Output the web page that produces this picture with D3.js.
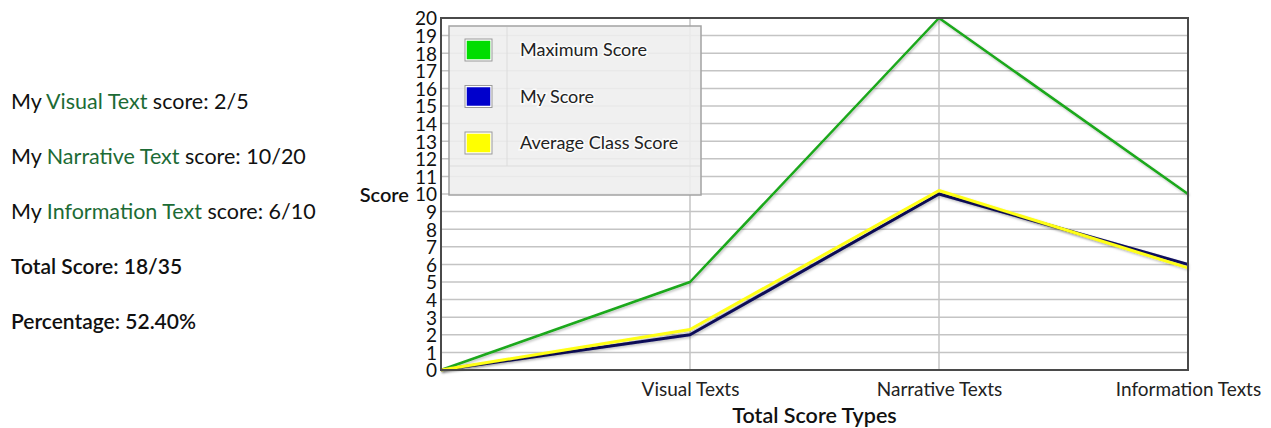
<!DOCTYPE html>
<html>
<head>
<meta charset="utf-8">
<script src="https://cdn.jsdelivr.net/npm/d3@7"></script>
<style>
  body { margin: 0; background: #fff; font-family: Lato, "Open Sans", sans-serif; }
  svg text { font-family: Lato, "Open Sans", sans-serif; }
</style>
</head>
<body>
<svg id="chart"></svg>
<script>
var w = 1271;
var h = 428;

// categories (first entry is the origin point, drawn without a label)
var categories = ["", "Visual Texts", "Narrative Texts", "Information Texts"];
var maxScore = [0, 5, 20, 10];
var myScore = [0, 2, 10, 6];
var avgScore = [0, 2.3, 10.2, 5.8];
var yTicks = d3.range(0, 21);

var seriesNames = ["Maximum Score", "My Score", "Average Class Score"];
var swatchColors = ["#00dd00", "#0000cc", "#ffff00"];
var lineColors = ["#1aa81a", "#0a0a5c", "#ffff14"];

// summary text at the left
var summary = [
  { pre: "My ", hl: "Visual Text", post: " score: 2/5" },
  { pre: "My ", hl: "Narrative Text", post: " score: 10/20" },
  { pre: "My ", hl: "Information Text", post: " score: 6/10" },
  { pre: "Total Score: 18/35", hl: "", post: "", bold: true },
  { pre: "Percentage: 52.40%", hl: "", post: "", bold: true }
];

var margin = { left: 441, right: 83, top: 18, bottom: 58 };
var figw = w - margin.left - margin.right;
var figh = h - margin.top - margin.bottom;

var svg = d3.select("#chart").attr("width", w).attr("height", h);

// drop shadow for lines
var defs = svg.append("defs");
var f = defs.append("filter").attr("id", "shadow")
    .attr("x", "-5%").attr("y", "-5%").attr("width", "110%").attr("height", "110%");
f.append("feDropShadow").attr("dx", 1).attr("dy", 1.5).attr("stdDeviation", 1)
    .attr("flood-color", "#000").attr("flood-opacity", 0.25);

// left text block
var st = svg.append("g");
summary.forEach(function(d, i) {
  var t = st.append("text")
      .attr("x", 11)
      .attr("y", 108.5 + i * 55)
      .style("font-size", d.bold ? "21px" : "21.5px")
      .style("font-weight", d.bold ? "600" : "normal")
      .attr("fill", "#111");
  t.append("tspan").text(d.pre);
  if (d.hl) {
    t.append("tspan").attr("fill", "#1c6b35").text(d.hl);
    t.append("tspan").text(d.post);
  }
});

var x = d3.scalePoint().domain(categories).range([margin.left, margin.left + figw]);
var y = d3.scaleLinear().domain([0, 20]).range([margin.top + figh, margin.top]);

// horizontal grid
svg.append("g").selectAll("line")
  .data(yTicks.slice(1))
  .enter().append("line")
  .attr("x1", margin.left).attr("x2", margin.left + figw)
  .attr("y1", function(d) { return y(d); })
  .attr("y2", function(d) { return y(d); })
  .attr("stroke", "#c4c4c4").attr("stroke-width", 1.5);

// vertical grid
svg.append("g").selectAll("line")
  .data(categories.slice(1, 3))
  .enter().append("line")
  .attr("x1", function(d) { return x(d); })
  .attr("x2", function(d) { return x(d); })
  .attr("y1", margin.top).attr("y2", margin.top + figh)
  .attr("stroke", "#c4c4c4").attr("stroke-width", 1.5);

// lines
var valueline = d3.line()
    .x(function(d, i) { return x(categories[i]); })
    .y(function(d) { return y(d); });

[maxScore, myScore, avgScore].forEach(function(s, i) {
  svg.append("path").datum(s)
    .attr("d", valueline)
    .attr("fill", "none")
    .attr("stroke", lineColors[i])
    .attr("stroke-width", i == 0 ? 2.5 : 3)
    .attr("stroke-linejoin", "round")
    .attr("filter", "url(#shadow)");
});

// plot border
svg.append("rect")
  .attr("x", margin.left).attr("y", margin.top)
  .attr("width", figw).attr("height", figh)
  .attr("fill", "none").attr("stroke", "#4a4a4a").attr("stroke-width", 2);

// y axis
var yAxis = d3.axisLeft(y).tickValues(yTicks).tickSize(0).tickPadding(4).tickFormat(d3.format("d"));
var ya = svg.append("g")
  .attr("transform", "translate(" + margin.left + ",0)")
  .call(yAxis);
ya.select(".domain").remove();
ya.selectAll("text").style("font-size", "19px").attr("fill", "#111").attr("dy", "0.36em");

// x axis
var xAxis = d3.axisBottom(x).tickSize(0).tickPadding(12.5);
var xa = svg.append("g")
  .attr("transform", "translate(0," + (margin.top + figh) + ")")
  .call(xAxis);
xa.select(".domain").remove();
xa.selectAll("text").style("font-size", "19px").attr("fill", "#222");

// axis titles
svg.append("text")
  .attr("x", 409).attr("y", 202)
  .style("text-anchor", "end")
  .style("font-size", "20px").style("font-weight", "600")
  .attr("fill", "#111")
  .text("Score");

svg.append("text")
  .attr("x", margin.left + figw / 2).attr("y", 423)
  .style("text-anchor", "middle")
  .style("font-size", "21.5px").style("font-weight", "600")
  .attr("fill", "#111")
  .text("Total Score Types");

// legend
var lg = svg.append("g").attr("transform", "translate(449,26)");
lg.append("rect")
  .attr("width", 252).attr("height", 169)
  .attr("fill", "#eeeeee").attr("fill-opacity", 0.88)
  .attr("stroke", "#a3a3a3").attr("stroke-width", 1.5);
lg.append("line")
  .attr("x1", 58).attr("x2", 58).attr("y1", 1).attr("y2", 140)
  .attr("stroke", "#dcdcdc");
lg.append("line")
  .attr("x1", 1).attr("x2", 251).attr("y1", 140).attr("y2", 140)
  .attr("stroke", "#dcdcdc");

var rows = lg.selectAll(".row")
  .data(seriesNames)
  .enter().append("g")
  .attr("transform", function(d, i) { return "translate(0," + (24 + i * 46.5) + ")"; });
rows.append("rect")
  .attr("x", 17).attr("y", -10).attr("width", 25).attr("height", 20)
  .attr("fill", function(d, i) { return swatchColors[i]; })
  .attr("stroke", "#fff").attr("stroke-width", 1.5);
rows.append("rect")
  .attr("x", 16).attr("y", -11).attr("width", 27).attr("height", 22)
  .attr("fill", "none").attr("stroke", "#9a9a9a").attr("stroke-width", 1);
rows.append("text")
  .attr("x", 71).attr("y", 0).attr("dy", "0.36em")
  .style("font-size", "18px")
  .attr("fill", "#222")
  .attr("stroke", "#fff").attr("stroke-width", 3).attr("stroke-opacity", 0.8)
  .attr("paint-order", "stroke")
  .text(function(d) { return d; });
</script>
</body>
</html>
